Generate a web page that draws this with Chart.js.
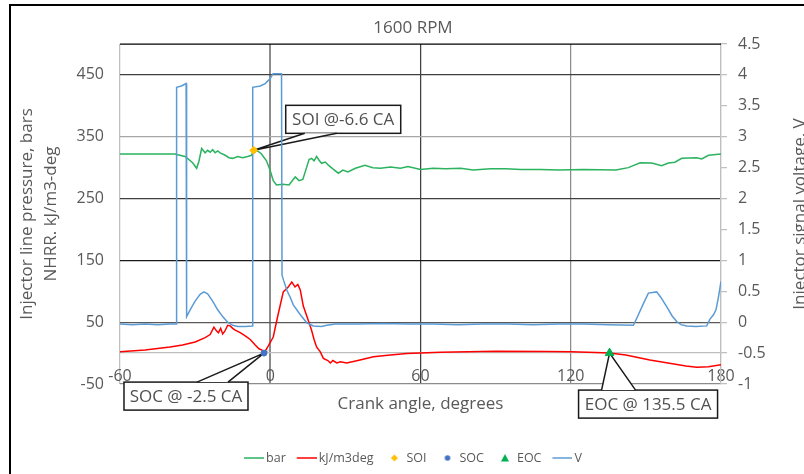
<!DOCTYPE html>
<html>
<head>
<meta charset="utf-8">
<script src="https://cdn.jsdelivr.net/npm/chart.js"></script>
<style>
  html, body { margin: 0; padding: 0; background: #fff; overflow: hidden; }
  #frame { position: absolute; left: 9px; top: 4px; border: 2px solid #000; width: 804px; height: 480px; }
  canvas { display: block; }
</style>
</head>
<body>
<div id="frame"><canvas id="chart" width="804" height="480"></canvas></div>
<script>
// axis ticks
const xTicks = [-60, 0, 60, 120, 180];
const leftTicks = [-50, 50, 150, 250, 350, 450];
const rightTicks = [-1, -0.5, 0, 0.5, 1, 1.5, 2, 2.5, 3, 3.5, 4, 4.5];

// injector line pressure, bar
const barAngle = [-60, -38, -37, -34, -31, -29.4, -28.5, -27.4, -26, -25, -24, -23, -22, -21, -20, -18, -16.5, -15, -13, -11, -9, -7.5, -6.6, -5,
  -3.5, -1.5, 0, 1.2, 2.5, 5, 7.5, 9, 10, 11.5, 13, 14.5, 15.5, 16.5, 17.5, 18.5, 19.5, 20.5, 22, 23.2, 25, 27.2, 29, 31, 34, 37.8,
  41, 44, 48, 52, 55, 60, 65, 70, 76, 81, 88, 94, 100, 108, 115, 125, 138, 143, 147.7, 152.3, 156.3, 159, 161.6, 164.3, 170.3, 172.3, 175, 180];
const barValue = [322, 322, 321, 318, 308, 299, 310, 331, 324, 328, 325, 329, 324, 327, 324, 320, 316, 315, 318, 316, 318, 320, 328, 327,
  322, 311, 295, 279, 272, 273, 272, 280, 285, 279, 281, 300, 313, 315, 311, 318, 312, 307, 309, 304, 298, 291, 296, 293, 299, 304,
  300, 299, 301, 299, 302, 297, 299, 298, 299, 296, 298, 298, 297, 297, 296, 297, 296, 300, 308, 307.6, 303, 307.6, 308.7, 315, 316, 314, 320, 322];

// net heat release rate, kJ/m3-deg
const hrrAngle = [-60, -50, -40, -35, -30, -26, -24, -22.5, -21.5, -20.7, -19.8, -19, -18.2, -17, -16, -15, -14, -12, -10, -8, -6, -4.5, -3.3, -2.5,
  -1, 1.2, 3, 5.2, 7, 8.6, 9.9, 11, 12, 13.2, 15, 16.5, 17.5, 18.5, 20, 21.2, 23, 24, 25, 26.6, 28, 30.5, 35, 41.2, 48, 54.5,
  68, 90, 110, 120, 130, 135.5, 142, 151.6, 160, 166, 170.3, 175, 180];
const hrrValue = [2, 5, 10, 13, 18, 25, 30, 42, 36, 33, 40, 31, 35, 45, 44, 40, 37, 33, 28, 22, 13, 7, 5, 0,
  10, 26, 60, 99, 106, 115, 107, 111, 102, 76, 55, 37, 22, 10, 2, -8.5, -12, -16, -12, -16, -14, -16, -12, -6, -3, -0.5,
  1.5, 3, 2.5, 2, 1, 0, -3, -11, -17, -21, -23, -22, -19];

// injector signal voltage, V
const voltAngle = [-60, -55, -50, -45, -40, -37.6, -37.4, -35.5, -33.6, -33.4, -32, -30, -28, -26.5, -25, -23, -21, -19, -17, -15, -13, -10,
  -7.2, -7.0, -4, -2, 0, 1.1, 4.5, 4.7, 5.3, 6.6, 8, 9.2, 12, 14.6, 17.2, 20.5, 22.6, 26, 35, 45, 55, 65, 75, 85, 95, 105, 115, 125, 135,
  145, 145.4, 147, 149, 151, 154.3, 156, 158.3, 160.5, 162.3, 164, 166.3, 170, 174.3, 175.6, 177, 178, 179, 180];
const voltValue = [-0.03, -0.04, -0.03, -0.04, -0.03, -0.03, 3.8, 3.82, 3.86, 0.09, 0.2, 0.34, 0.45, 0.49, 0.46, 0.34, 0.2, 0.09, 0, -0.05, -0.07, -0.07,
  -0.06, 3.8, 3.82, 3.86, 3.94, 4.02, 4.02, 0.76, 0.68, 0.52, 0.4, 0.28, 0.12, -0.01, -0.06, -0.07, -0.05, -0.03, -0.03, -0.02, -0.03, -0.03, -0.04, -0.03, -0.03, -0.04, -0.03, -0.03, -0.04,
  -0.05, -0.02, 0.12, 0.3, 0.47, 0.49, 0.4, 0.25, 0.1, 0.01, -0.04, -0.06, -0.07, -0.06, 0.05, 0.12, 0.2, 0.41, 0.66];

// SOI, SOC, EOC markers
const markerNames = ['SOI', 'SOC', 'EOC'];
const markerAngle = [-6.6, -2.5, 135.5];
const markerValue = [328, 0, 0];
const calloutText = ['SOI @-6.6 CA', 'SOC @ -2.5 CA', 'EOC @ 135.5 CA'];

const FONT = "'Open Sans', 'Noto Sans', sans-serif";
const GREY = '#595959';

// callout box offsets from the marker, in px
const callouts = [
  { dx: 32, dy: -45, w: 115, h: 28, b0: 51, b1: 83 },
  { dx: -140, dy: 29, w: 124, h: 28, b0: -67, b1: -36 },
  { dx: -31, dy: 37, w: 139, h: 28, b0: -8, b1: 26 }
];
const xGridColor = { '-60': '#bfbfbf', '0': '#8c8c8c', '60': '#404040', '120': '#8c8c8c', '180': '#d0d0d0' };
const yGridColor = { '-50': '#8c8c8c', '50': '#5a5a5a', '150': '#1a1a1a', '250': '#404040', '350': '#a6a6a6', '450': '#404040' };

const zip = (a, b) => a.map((x, i) => ({ x, y: b[i] }));

// legend icons: 24px wide, drawn so the 20px key starts at the legend box start
function legendIcon(kind, color) {
  const c = document.createElement('canvas');
  c.width = 24; c.height = 10;
  const g = c.getContext('2d');
  g.fillStyle = color; g.strokeStyle = color;
  const m = 14.1;
  if (kind === 'line') {
    g.lineWidth = 1.5;
    g.beginPath(); g.moveTo(4.1, 5); g.lineTo(24, 5); g.stroke();
  } else if (kind === 'rectRot') {
    g.beginPath(); g.moveTo(m, 1.5); g.lineTo(m + 3.5, 5); g.lineTo(m, 8.5); g.lineTo(m - 3.5, 5); g.closePath(); g.fill();
  } else if (kind === 'circle') {
    g.beginPath(); g.arc(m, 5, 2.8, 0, Math.PI * 2); g.fill();
  } else {
    g.beginPath(); g.moveTo(m, 1); g.lineTo(m + 4, 8.5); g.lineTo(m - 4, 8.5); g.closePath(); g.fill();
  }
  return c;
}

const overlay = {
  id: 'overlay',
  beforeDatasetsDraw(chart) {
    const { ctx, chartArea, scales } = chart;
    ctx.save();
    // plot area top edge
    ctx.strokeStyle = '#000'; ctx.lineWidth = 1.25;
    ctx.beginPath(); ctx.moveTo(chartArea.left, chartArea.top); ctx.lineTo(chartArea.right, chartArea.top); ctx.stroke();

    // right axis title, reading upwards like the left one
    ctx.translate(789, (chartArea.top + chartArea.bottom) / 2);
    ctx.rotate(-Math.PI / 2);
    ctx.font = '17px ' + FONT; ctx.fillStyle = GREY;
    ctx.textAlign = 'center'; ctx.textBaseline = 'middle';
    ctx.fillText('Injector signal voltage, V', 0, 0);
    ctx.restore();

    ctx.save();
    callouts.forEach((c, i) => {
      const px = scales.x.getPixelForValue(markerAngle[i]);
      const py = scales.y.getPixelForValue(markerValue[i]);
      const bx = px + c.dx, by = py + c.dy;
      const edge = c.dy < 0 ? by + c.h : by;
      ctx.fillStyle = '#fff'; ctx.strokeStyle = '#1a1a1a'; ctx.lineWidth = 1.5;
      ctx.fillRect(bx, by, c.w, c.h);
      ctx.strokeRect(bx, by, c.w, c.h);
      ctx.beginPath();
      ctx.moveTo(px + c.b0, edge); ctx.lineTo(px, py); ctx.lineTo(px + c.b1, edge);
      ctx.fill();
      ctx.stroke();
      ctx.font = '17px ' + FONT; ctx.fillStyle = '#505050';
      ctx.textAlign = 'center'; ctx.textBaseline = 'middle';
      ctx.fillText(calloutText[i], bx + c.w / 2, by + c.h / 2 + 1);
    });
    ctx.restore();
  }
};

const tickFont = { family: FONT, size: 16 };

new Chart(document.getElementById('chart'), {
  type: 'line',
  data: {
    datasets: [
      { label: 'bar', data: zip(barAngle, barValue), yAxisID: 'y', borderColor: '#2bb35f', borderWidth: 1.5, pointRadius: 0, order: 3,
        legendKind: 'line' },
      { label: 'kJ/m3deg', data: zip(hrrAngle, hrrValue), yAxisID: 'y', borderColor: '#ff0000', borderWidth: 1.5, pointRadius: 0, order: 2,
        legendKind: 'line' },
      { label: markerNames[0], data: [{ x: markerAngle[0], y: markerValue[0] }], yAxisID: 'y', showLine: false, pointStyle: 'rectRot',
        pointRadius: 4, backgroundColor: '#ffc000', borderColor: '#ffc000', order: 0, legendKind: 'rectRot' },
      { label: markerNames[1], data: [{ x: markerAngle[1], y: markerValue[1] }], yAxisID: 'y', showLine: false, pointStyle: 'circle',
        pointRadius: 3, backgroundColor: '#4472c4', borderColor: '#4472c4', order: 0, legendKind: 'circle' },
      { label: markerNames[2], data: [{ x: markerAngle[2], y: markerValue[2] }], yAxisID: 'y', showLine: false, pointStyle: 'triangle',
        pointRadius: 5, backgroundColor: '#00b050', borderColor: '#00b050', order: 0, legendKind: 'triangle' },
      { label: 'V', data: zip(voltAngle, voltValue), yAxisID: 'y1', borderColor: '#5b9bd5', borderWidth: 1.5, pointRadius: 0, order: 1,
        legendKind: 'line' }
    ]
  },
  options: {
    responsive: false,
    animation: false,
    layout: { padding: { left: 0, right: 0, top: 0, bottom: 11.75 } },
    scales: {
      x: {
        type: 'linear', position: { y: 0 }, min: -60, max: 180,
        afterBuildTicks: s => { s.ticks = xTicks.map(v => ({ value: v })); },
        afterFit: s => { s.height = 61; },
        ticks: { font: tickFont, color: GREY, padding: 14, maxRotation: 0, autoSkip: false, callback: v => String(v) },
        grid: {
          drawTicks: false,
          color: c => (c.tick ? xGridColor[String(c.tick.value)] : '#8c8c8c'),
          lineWidth: c => (c.tick && c.tick.value === 0 ? 2 : 1.25)
        },
        border: { display: true, color: '#bfbfbf', width: 1.25 },
        title: { display: true, text: 'Crank angle, degrees', color: GREY, font: { family: FONT, size: 17 }, padding: 0 }
      },
      y: {
        type: 'linear', position: 'left', min: -50, max: 500,
        afterBuildTicks: s => { s.ticks = leftTicks.map(v => ({ value: v })); },
        afterFit: s => { s.width = 109; },
        ticks: { font: tickFont, color: GREY, padding: 16, callback: v => String(v) },
        grid: {
          drawTicks: false,
          color: c => (c.tick ? yGridColor[String(c.tick.value)] : '#8c8c8c'),
          lineWidth: 1.25
        },
        border: { display: false },
        title: {
          display: true, text: ['Injector line pressure, bars', 'NHRR. kJ/m3-deg'], color: GREY,
          font: { family: FONT, size: 17, lineHeight: 1.41 }, padding: { top: 4, bottom: 0 }
        }
      },
      y1: {
        type: 'linear', position: 'right', min: -1, max: 4.5,
        afterBuildTicks: s => { s.ticks = rightTicks.map(v => ({ value: v })); },
        afterFit: s => { s.width = 94; },
        ticks: { font: tickFont, color: GREY, padding: 11, callback: v => String(v) },
        grid: { drawOnChartArea: false, drawTicks: true, tickLength: 6, color: '#bfbfbf', lineWidth: 1.25 },
        border: { display: true, color: '#bfbfbf', width: 1.25 }
      }
    },
    plugins: {
      title: {
        display: true, text: '1600 RPM', color: GREY,
        font: { family: FONT, size: 17, weight: 'normal' }, padding: { top: 12, bottom: 5.6 }
      },
      subtitle: {
        display: true, text: '', position: 'bottom', weight: 500,
        font: { size: 10, lineHeight: 1 }, padding: { top: 46.75, bottom: 0 }
      },
      legend: {
        position: 'bottom',
        labels: {
          usePointStyle: true, pointStyleWidth: 15.75, padding: 11, color: GREY,
          font: { family: FONT, size: 12.5 },
          generateLabels: chart => chart.data.datasets.map((ds, i) => ({
            text: ds.label, datasetIndex: i, hidden: false, lineWidth: 0,
            fillStyle: ds.borderColor, strokeStyle: ds.borderColor, fontColor: GREY,
            pointStyle: legendIcon(ds.legendKind, ds.borderColor)
          }))
        }
      },
      tooltip: { enabled: false }
    }
  },
  plugins: [overlay]
});
</script>
</body>
</html>
